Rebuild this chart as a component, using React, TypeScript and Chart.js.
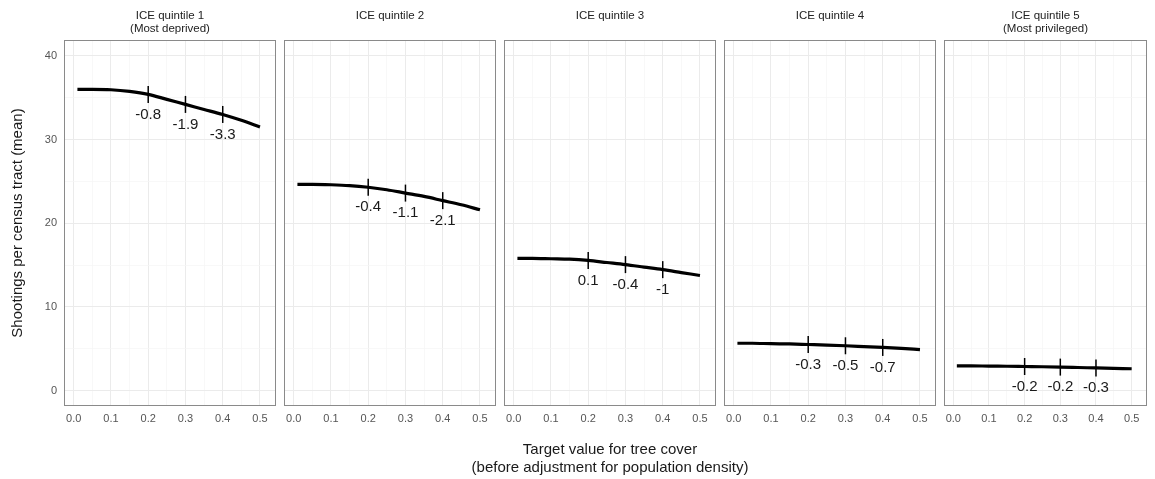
import React, { useEffect, useRef } from 'react';
import { Chart, registerables } from 'chart.js';

Chart.register(...registerables);

// ---------- data ----------
const xValues = [0.01, 0.05, 0.1, 0.15, 0.2, 0.25, 0.3, 0.35, 0.4, 0.45, 0.5];

const quintile1 = [36.0, 36.0, 35.95, 35.75, 35.4, 34.8, 34.2, 33.6, 33.0, 32.3, 31.5];
const quintile2 = [24.65, 24.65, 24.6, 24.5, 24.3, 24.0, 23.6, 23.2, 22.7, 22.2, 21.6];
const quintile3 = [15.8, 15.8, 15.75, 15.7, 15.55, 15.3, 15.05, 14.75, 14.45, 14.1, 13.75];
const quintile4 = [5.65, 5.65, 5.6, 5.57, 5.5, 5.43, 5.35, 5.25, 5.15, 5.03, 4.9];
const quintile5 = [2.95, 2.95, 2.92, 2.9, 2.87, 2.84, 2.8, 2.75, 2.7, 2.65, 2.6];

const markerX = [0.2, 0.3, 0.4];

const labels1 = ['-0.8', '-1.9', '-3.3'];
const labels2 = ['-0.4', '-1.1', '-2.1'];
const labels3 = ['0.1', '-0.4', '-1'];
const labels4 = ['-0.3', '-0.5', '-0.7'];
const labels5 = ['-0.2', '-0.2', '-0.3'];

const strip1 = ['ICE quintile 1', '(Most deprived)'];
const strip2 = ['ICE quintile 2'];
const strip3 = ['ICE quintile 3'];
const strip4 = ['ICE quintile 4'];
const strip5 = ['ICE quintile 5', '(Most privileged)'];

const xTicks = [0, 0.05, 0.1, 0.15, 0.2, 0.25, 0.3, 0.35, 0.4, 0.45, 0.5];
const yTicks = [0, 5, 10, 15, 20, 25, 30, 35, 40];

const yTitle = 'Shootings per census tract (mean)';
const xTitle = ['Target value for tree cover', '(before adjustment for population density)'];

const seriesList = [quintile1, quintile2, quintile3, quintile4, quintile5];
const labelList = [labels1, labels2, labels3, labels4, labels5];
const stripList = [strip1, strip2, strip3, strip4, strip5];

// ---------- layout ----------
const FONT = '"Liberation Sans", Arial, Helvetica, sans-serif';
const CANVAS_W = 1157;
const CANVAS_H = 479;
const PANEL_LEFT = [64, 284, 504, 724, 944];
const PANEL_WIDTH = 212;
const PLOT_TOP = 40;
const PLOT_BOTTOM = 406;
const X_MIN = -0.026;
const X_MAX = 0.543;
const Y_MIN = -1.85;
const Y_MAX = 41.9;

const isMajorX = (v: number) => Math.abs(v * 10 - Math.round(v * 10)) < 1e-6;
const isMajorY = (v: number) => Math.abs(v % 10) < 1e-6;

function makeDecor(series: number[], labels: string[], strip: string[], withXTitle: boolean) {
  return {
    id: 'decor',
    afterDatasetsDraw(chart: any) {
      const { ctx, chartArea: a, scales } = chart;
      ctx.save();
      // value labels
      ctx.font = `15px ${FONT}`;
      ctx.fillStyle = '#1a1a1a';
      ctx.textAlign = 'center';
      ctx.textBaseline = 'middle';
      markerX.forEach((mx, k) => {
        const yv = series[xValues.indexOf(mx)];
        ctx.fillText(labels[k], scales.x.getPixelForValue(mx), scales.y.getPixelForValue(yv) + 20);
      });
      // panel border
      ctx.strokeStyle = '#8a8a8a';
      ctx.lineWidth = 1;
      ctx.strokeRect(a.left + 0.5, a.top + 0.5, a.right - a.left - 1, a.bottom - a.top - 1);
      // strip title
      ctx.font = `11.5px ${FONT}`;
      ctx.fillStyle = '#222';
      strip.forEach((t, i) => ctx.fillText(t, (a.left + a.right) / 2, 15.7 + i * 13.6));
      // shared x axis title (centred on the middle panel = centre of all panels)
      if (withXTitle) {
        ctx.font = `15px ${FONT}`;
        ctx.fillStyle = '#1a1a1a';
        xTitle.forEach((t, i) => ctx.fillText(t, (a.left + a.right) / 2, 450 + i * 18));
      }
      ctx.restore();
    },
  };
}

export default function App() {
  const refs = useRef<(HTMLCanvasElement | null)[]>([]);

  useEffect(() => {
    Chart.defaults.font.family = FONT;
    const charts: Chart[] = [];
    seriesList.forEach((series, i) => {
      const canvas = refs.current[i];
      if (!canvas) return;
      const isFirst = i === 0;
      const isCenter = i === 2;
      const right = PANEL_LEFT[i] + PANEL_WIDTH;
      const chart = new Chart(canvas, {
        type: 'line',
        data: {
          datasets: [
            {
              data: xValues.map((x, k) => ({ x, y: series[k] })),
              borderColor: '#000',
              borderWidth: 3.2,
              pointRadius: 0,
              cubicInterpolationMode: 'monotone',
              fill: false,
            },
            {
              data: markerX.map((x) => ({ x, y: series[xValues.indexOf(x)] })),
              showLine: false,
              pointStyle: 'line',
              rotation: 90,
              pointRadius: 8.5,
              pointBorderWidth: 1.5,
              pointBorderColor: '#000',
              borderColor: '#000',
            },
          ],
        } as any,
        options: {
          animation: false,
          responsive: false,
          devicePixelRatio: 1,
          events: [],
          layout: {
            padding: {
              top: PLOT_TOP,
              bottom: 0,
              left: isFirst ? 0 : PANEL_LEFT[i],
              right: CANVAS_W - right,
            },
          },
          plugins: {
            legend: { display: false },
            tooltip: { enabled: false },
            title: { display: false },
          },
          scales: {
            x: {
              type: 'linear',
              min: X_MIN,
              max: X_MAX,
              afterBuildTicks: (scale: any) => {
                scale.ticks = xTicks.map((v) => ({ value: v }));
              },
              afterFit: (scale: any) => {
                scale.height = CANVAS_H - PLOT_BOTTOM;
              },
              border: { display: false },
              grid: {
                drawTicks: false,
                color: (c: any) => (isMajorX(c.tick.value) ? '#ebebeb' : '#f5f5f5'),
                lineWidth: (c: any) => (isMajorX(c.tick.value) ? 1 : 0.7),
              },
              ticks: {
                autoSkip: false,
                maxRotation: 0,
                padding: 6,
                color: '#555',
                font: { size: 11, family: FONT },
                callback: (v: any) => (isMajorX(Number(v)) ? Number(v).toFixed(1) : ''),
              },
              title: { display: false },
            },
            y: {
              type: 'linear',
              position: 'left',
              min: Y_MIN,
              max: Y_MAX,
              afterBuildTicks: (scale: any) => {
                scale.ticks = yTicks.map((v) => ({ value: v }));
              },
              afterFit: (scale: any) => {
                scale.width = isFirst ? PANEL_LEFT[0] : 0;
              },
              border: { display: false },
              grid: {
                drawTicks: false,
                color: (c: any) => (isMajorY(c.tick.value) ? '#ebebeb' : '#f5f5f5'),
                lineWidth: (c: any) => (isMajorY(c.tick.value) ? 1 : 0.7),
              },
              ticks: {
                display: isFirst,
                padding: 7,
                color: '#555',
                font: { size: 11, family: FONT },
                callback: (v: any) => (isMajorY(Number(v)) ? String(v) : ''),
              },
              title: {
                display: isFirst,
                text: yTitle,
                color: '#1a1a1a',
                font: { size: 15, family: FONT, lineHeight: 1.2 },
                padding: { top: 9, bottom: 0 },
              },
            },
          },
        } as any,
        plugins: [makeDecor(series, labelList[i], stripList[i], isCenter)],
      });
      charts.push(chart);
    });
    return () => charts.forEach((c) => c.destroy());
  }, []);

  return (
    <div
      style={{
        position: 'absolute',
        left: 0,
        top: 0,
        width: 1155,
        height: 479,
        overflow: 'hidden',
        background: '#fff',
      }}
    >
      {seriesList.map((_, i) => (
        <canvas
          key={i}
          ref={(el) => {
            refs.current[i] = el;
          }}
          width={CANVAS_W}
          height={CANVAS_H}
          style={{ position: 'absolute', left: 0, top: 0 }}
        />
      ))}
    </div>
  );
}
